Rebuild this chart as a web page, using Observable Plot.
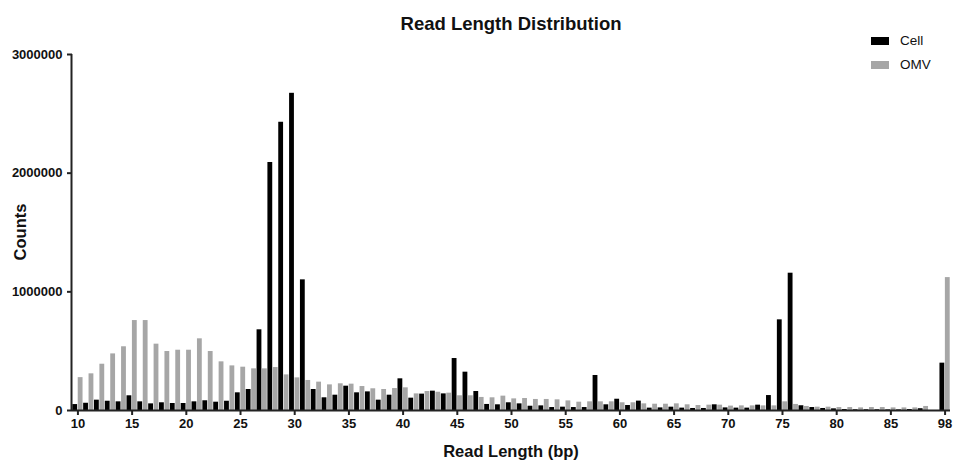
<!DOCTYPE html>
<html>
<head>
<meta charset="utf-8">
<script src="https://cdn.jsdelivr.net/npm/d3@7"></script>
<script src="https://cdn.jsdelivr.net/npm/@observablehq/plot@0.6"></script>
<style>
  html, body { margin: 0; padding: 0; background: #fff; }
  body { font-family: "Liberation Sans", Arial, Helvetica, sans-serif; }
  #wrap { position: relative; width: 954px; height: 461px; overflow: hidden; }
  #chart { position: absolute; left: 0; top: 0; }
  .lbl { position: absolute; font-weight: bold; color: #111; white-space: nowrap; line-height: 1; }
  #title { left: 311px; width: 400px; text-align: center; top: 15px; font-size: 18.5px; }
  #xlabel { left: 361px; width: 300px; text-align: center; top: 443px; font-size: 16.5px; }
  #ylabel { left: 20px; top: 232px; font-size: 16.5px; transform: translate(-50%, -50%) rotate(-90deg); }
  .leg { position: absolute; left: 871px; font-size: 13.5px; color: #111; line-height: 1; }
  .sw { display: inline-block; width: 18px; height: 8px; vertical-align: middle; margin-right: 11px; }
</style>
</head>
<body>
<div id="wrap">
  <div id="chart"></div>
  <div id="title" class="lbl">Read Length Distribution</div>
  <div id="xlabel" class="lbl">Read Length (bp)</div>
  <div id="ylabel" class="lbl">Counts</div>
  <div id="legend"></div>
</div>
<script>
// Read lengths (bp); the axis leaves one empty slot between 88 and 98
const lengths = [10,11,12,13,14,15,16,17,18,19,20,21,22,23,24,25,26,27,28,29,
  30,31,32,33,34,35,36,37,38,39,40,41,42,43,44,45,46,47,48,49,
  50,51,52,53,54,55,56,57,58,59,60,61,62,63,64,65,66,67,68,69,
  70,71,72,73,74,75,76,77,78,79,80,81,82,83,84,85,86,87,88,98];

const cell = [50000,61000,87000,78000,73000,124000,73000,56000,65000,59000,
  59000,73000,82000,70000,78000,149000,177000,680000,2090000,2429000,
  2673000,1101000,177000,107000,129000,205000,149000,157000,87000,129000,
  267000,104000,138000,163000,140000,438000,323000,160000,51000,48000,
  65000,56000,36000,39000,25000,28000,25000,25000,295000,48000,
  95000,42000,79000,20000,22000,28000,20000,17000,17000,48000,
  22000,20000,20000,45000,126000,764000,1157000,40000,25000,17000,
  14000,8000,6000,6000,6000,5000,5000,8000,15000,399000];

const omv = [277000,309000,390000,477000,537000,758000,758000,559000,497000,508000,
  508000,604000,497000,410000,376000,365000,351000,351000,362000,300000,
  275000,253000,239000,216000,225000,222000,202000,183000,177000,185000,
  191000,140000,160000,154000,146000,124000,124000,110000,107000,121000,
  98000,101000,93000,93000,90000,81000,70000,73000,73000,73000,
  65000,65000,56000,53000,53000,56000,48000,42000,45000,45000,
  37000,39000,39000,39000,39000,73000,51000,34000,28000,28000,
  25000,25000,22000,25000,25000,22000,22000,22000,34000,1120000];

const seriesNames = ["Cell", "OMV"];
const seriesColors = ["#000000", "#a6a6a6"];
const xTickLabels = [10,15,20,25,30,35,40,45,50,55,60,65,70,75,80,85,98];
const yTickValues = [0, 1000000, 2000000, 3000000];

// axis order with a blank slot before 98
const axisSlots = [...lengths.slice(0, lengths.length - 1), "", lengths[lengths.length - 1]];

const rows = lengths.flatMap((len, i) => [
  {len, series: "Cell", value: cell[i], slot: axisSlots.indexOf(len), side: 0},
  {len, series: "OMV", value: omv[i], slot: axisSlots.indexOf(len), side: 1}
]);

const chart = Plot.plot({
  width: 954,
  height: 461,
  marginTop: 54,
  marginBottom: 51,
  marginLeft: 72,
  marginRight: 4,
  style: {fontFamily: "'Liberation Sans', Arial, sans-serif", fontWeight: "bold", color: "#111", background: "#fff"},
  x: {type: "linear", domain: [-0.5, axisSlots.length - 0.5], axis: null},
  y: {domain: [0, 3000000], axis: null},
  color: {domain: seriesNames, range: seriesColors},
  marks: [
    Plot.rect(rows, {
      x1: d => d.slot - 0.5 + d.side * 0.5,
      x2: d => d.slot + d.side * 0.5,
      y1: 0,
      y2: "value",
      fill: "series",
      insetLeft: 0.3,
      insetRight: 0.3
    }),
    Plot.axisX(xTickLabels.map(t => axisSlots.indexOf(t)), {
      tickFormat: i => String(axisSlots[i]),
      tickSize: 5,
      tickPadding: 3,
      strokeWidth: 2,
      stroke: "#222",
      fontSize: 13,
      fontWeight: "bold",
      label: null
    }),
    Plot.axisY(yTickValues, {
      tickFormat: d3.format("d"),
      tickSize: 5,
      tickPadding: 5,
      strokeWidth: 2,
      stroke: "#222",
      fontSize: 13,
      fontWeight: "bold",
      label: null
    }),
    Plot.ruleY([0], {stroke: "#222", strokeWidth: 2}),
    Plot.ruleX([-0.5], {y1: 0, y2: 3000000, stroke: "#222", strokeWidth: 2, dx: -1})
  ]
});
document.getElementById("chart").appendChild(chart);

const legend = document.getElementById("legend");
seriesNames.forEach((name, i) => {
  const row = document.createElement("div");
  row.className = "leg";
  row.style.top = (34 + i * 24) + "px";
  row.innerHTML = `<span class="sw" style="background:${seriesColors[i]}"></span>${name}`;
  legend.appendChild(row);
});
</script>
</body>
</html>
